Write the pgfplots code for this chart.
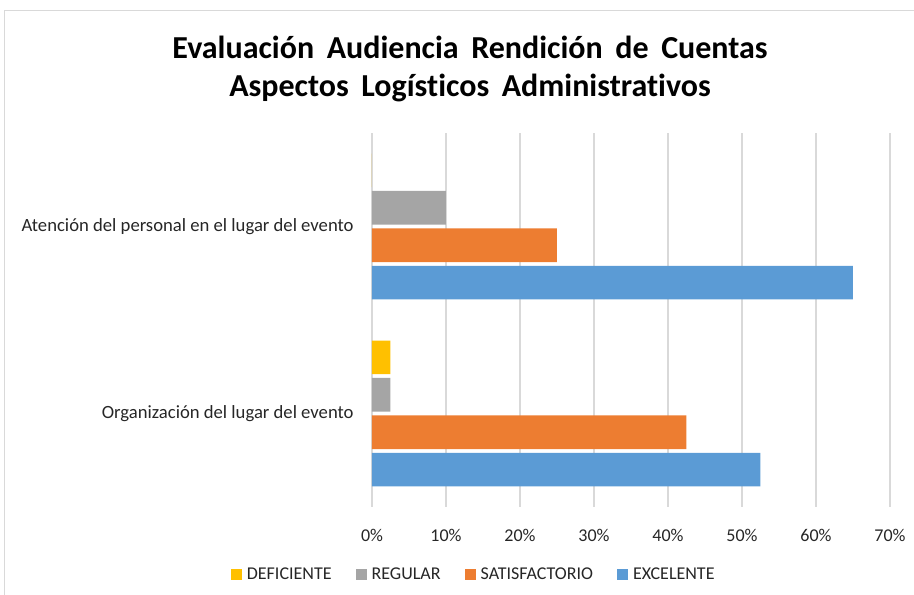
\documentclass[border=0pt]{standalone}
\usepackage{fontspec}
\setmainfont{Carlito}[Ligatures=NoCommon]
\usepackage{pgfplots}
\pgfplotsset{compat=1.18}
\definecolor{cdef}{HTML}{FFC000}
\definecolor{creg}{HTML}{A5A5A5}
\definecolor{csat}{HTML}{ED7D31}
\definecolor{cexc}{HTML}{5B9BD5}
\definecolor{cgrid}{HTML}{D9D9D9}
\begin{document}
\begin{tikzpicture}
\useasboundingbox (0pt,0pt) rectangle (685.5pt,446.25pt);
\draw[cgrid] (3pt,0pt) -- (3pt,438.75pt) -- (685.5pt,438.75pt);
\node[font=\fontsize{24}{28}\selectfont\bfseries] at (352.5pt,410.5pt) {Evaluación\, Audiencia\, Rendición\, de\, Cuentas};
\node[font=\fontsize{24}{28}\selectfont\bfseries] at (352.5pt,380pt) {Aspectos\, Logísticos\, Administrativos};
\begin{axis}[
  at={(279pt,66pt)}, anchor=south west,
  scale only axis, width=388.5pt, height=280.5pt,
  xbar, bar width=0.18,
  xmin=0, xmax=70, ymin=-0.5, ymax=1.5,
  enlargelimits=false,
  xtick={0,10,...,70},
  xticklabel={\pgfmathprintnumber{\tick}\%},
  ytick={0,1},
  yticklabels={Organización del lugar del evento, Atención del personal en el lugar del evento},
  /pgf/number format/assume math mode=true,
  xticklabel style={font=\fontsize{13.5}{16}\selectfont, text=black!85, yshift=-13pt},
  yticklabel style={font=\fontsize{14}{17}\selectfont, text=black!85, xshift=-6pt},
  axis line style={draw=none},
  tick style={draw=none},
  xmajorgrids, grid style={cgrid, line width=0.8pt},
  legend columns=4,
  legend style={draw=none, at={(0.197,-0.182)}, anchor=center, font=\fontsize{13.5}{16}\selectfont, text=black!85,
    /tikz/every even column/.append style={column sep=16pt},
    /tikz/every odd column/.append style={column sep=1.5pt}},
  legend image code/.code={\fill (0pt,-4pt) rectangle (8.5pt,4.5pt);},
]
\addplot[fill=cdef, draw=none, bar shift=0.3] coordinates {(2.5,0) (0,1)};
\addplot[fill=creg, draw=none, bar shift=0.1] coordinates {(2.5,0) (10,1)};
\addplot[fill=csat, draw=none, bar shift=-0.1] coordinates {(42.5,0) (25,1)};
\addplot[fill=cexc, draw=none, bar shift=-0.3] coordinates {(52.5,0) (65,1)};
\legend{DEFICIENTE, REGULAR, SATISFACTORIO, EXCELENTE}
\end{axis}
\end{tikzpicture}
\end{document}
